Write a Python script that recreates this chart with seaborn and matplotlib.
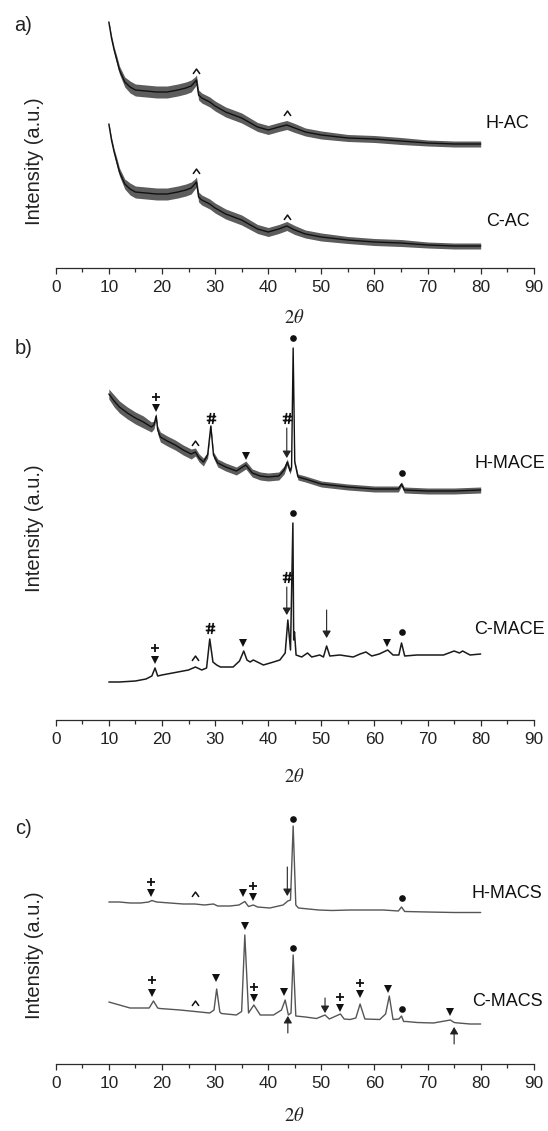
import numpy as np
import matplotlib
matplotlib.use("Agg")
import matplotlib.pyplot as plt
from matplotlib.path import Path
from matplotlib.ticker import MultipleLocator
import seaborn as sns

# ---------------- data: 2-theta (deg) and intensity (a.u., stacked) ----------------
# a) activated carbons
ac_2theta = [10, 10.5, 11, 11.5, 12, 13, 14, 15, 17, 19, 21, 23, 24.5, 25.5, 26.2, 26.5,
             26.9, 27.5, 29, 30, 32, 35, 38, 40, 42, 43.5, 45, 47, 50, 55, 60, 65, 70, 75, 80]
hac_int = [246, 230, 218, 208, 198, 186, 181, 178, 177, 176, 176, 178, 180, 182, 186, 188,
           173, 170, 166, 162, 156, 150, 141, 138, 141, 143, 140, 136, 133, 130, 129, 127, 125, 124, 124]
cac_int = [144, 128, 116, 106, 96, 84, 79, 76, 75, 74, 74, 76, 78, 80, 84, 86,
           71, 68, 64, 60, 54, 48, 39, 36, 39, 42, 38, 34, 31, 28, 26, 25, 23, 22, 22]
ac_noise = [2, 3, 3, 4, 4, 5, 6, 6, 6, 6, 6, 6, 6, 6, 5, 5,
            5, 5, 5, 5, 5, 5, 4.5, 4.5, 4.5, 4.5, 4.5, 4, 4, 3.5, 3.5, 3.5, 3, 3, 3]

# b) MACE samples
hmace_2theta = [10, 11, 12, 13.5, 15, 16.5, 18, 18.5, 18.9, 19.2, 19.7, 21, 22.5, 24, 25.5, 26.3,
                27, 27.8, 28.6, 29.2, 29.7, 30.5, 32, 34, 35.8, 37, 38.5, 40, 42, 43, 43.6, 44.1,
                44.4, 44.7, 45.0, 45.6, 47, 50, 55, 60, 64.5, 65.1, 65.6, 70, 75, 80]
hmace_int = [326, 319, 313, 307, 302, 298, 293, 295, 304, 290, 283, 279, 275, 270, 266, 268,
             262, 258, 265, 294, 265, 257, 253, 249, 255, 247, 244, 243, 244, 250, 258, 249,
             253, 372, 258, 243, 241, 236, 233, 231, 231, 236, 230, 229, 229, 230]
hmace_noise = [5, 6, 6, 6, 6, 6, 5, 4, 3, 4, 5, 5, 5, 5, 5, 4,
               4, 4, 3, 2, 3, 4, 4, 4, 4, 4, 4, 4, 4, 4, 3, 3,
               2, 0.5, 2, 3, 3, 3, 3, 3, 3, 2, 3, 3, 3, 3]
cmace_2theta = [10, 12, 15, 17, 18.1, 18.7, 19.2, 20, 22, 25, 26.3, 27.5, 28.4, 29.0, 29.6, 30.3,
                31, 33.4, 34.6, 35.4, 36.0, 36.6, 37.2, 39.1, 41, 42.2, 43.2, 43.7, 44.2, 44.65,
                44.8, 44.95, 45.25, 46.3, 47.4, 48.2, 49.7, 50.4, 51.0, 51.6, 53.5, 56, 57.3, 58.4,
                59.5, 60.9, 62.5, 63.5, 64.6, 65.1, 65.7, 68, 70, 73, 75, 76, 76.6, 78, 80]
cmace_int = [38, 38, 39, 41, 44, 52, 44, 45, 47, 50, 53, 50, 52, 81, 58, 55,
             53, 53, 59, 69, 60, 58, 60, 55, 58, 60, 67, 100, 70, 197,
             80, 88, 65, 63, 67, 63, 65, 63, 74, 64, 65, 63, 66, 68,
             64, 66, 70, 65, 65, 77, 64, 65, 65, 65, 69, 67, 69, 65, 66]

# c) MACS samples
hmacs_2theta = [10, 12, 14, 16, 17.5, 18.1, 19, 21.5, 24, 26.2, 28, 29.7, 30.5, 32.8, 34.5, 35.6,
                36.3, 37.2, 38, 40.3, 42.8, 43.7, 44.2, 44.7, 45.2, 45.7, 49.5, 52, 55.4, 61.7,
                64.5, 65.1, 65.7, 70, 75, 80]
hmacs_int = [162, 162, 161, 161, 162, 163.5, 162, 161, 160, 160, 159, 160, 158, 158, 159, 162.5,
             157.5, 159, 157, 156, 159, 163, 164, 238, 159, 156, 154, 153.5, 154, 154,
             153, 157, 152.5, 152, 151.5, 151.5]
cmacs_2theta = [10, 11, 12, 14, 16, 17.6, 18.4, 19.2, 19.6, 23.4, 26.2, 29, 29.8, 30.3, 30.9, 31.2,
                34, 35, 35.6, 36.3, 37.3, 38.5, 41, 42.5, 43.2, 43.8, 44.3, 44.7, 45.2, 47,
                49.1, 50.7, 51.5, 53.6, 54.3, 55.4, 56.5, 57.3, 58.2, 61, 62.1, 62.8, 63.5, 64.6,
                65.1, 65.5, 66, 68, 71.1, 74.3, 75, 75.8, 78, 80]
cmacs_int = [62, 60.5, 59, 56, 56, 56, 63, 56, 55.5, 54, 52.5, 51, 54, 75, 52, 50.5,
             49, 52.5, 129, 51, 59, 49, 49, 54, 64, 49, 51, 109, 48, 47,
             45.5, 49, 45, 50, 45, 44.5, 46, 60, 45, 44.5, 50, 68, 44.5, 45,
             48, 42.5, 42.5, 41.5, 41, 44, 41.5, 41, 40, 40]

# phase markers: (2theta, height) per symbol
a_caret_x = [26.5, 43.5, 26.5, 43.5]
a_caret_y = [197, 155, 97, 51]

b_plus_x = [18.9, 18.7]
b_plus_y = [323, 72]
b_tri_x = [18.9, 35.8, 18.7, 35.3, 62.4]
b_tri_y = [312, 264, 60, 77, 77]
b_caret_x = [26.3, 26.3]
b_caret_y = [277, 62]
b_hash_x = [29.2, 43.5, 29.0, 43.5]
b_hash_y = [302, 302, 92, 143]
b_dot_x = [44.7, 65.1, 44.65, 65.1]
b_dot_y = [382, 247, 207, 88]
b_arrow_x = [43.5, 43.5, 51.0]
b_arrow_tail = [292, 133, 110]
b_arrow_tip = [262, 105, 82]

c_plus_x = [18.0, 37.2, 18.2, 37.3, 53.5, 57.3]
c_plus_y = [182, 178, 84, 77, 67, 81]
c_tri_x = [18.0, 35.3, 37.2, 18.2, 30.2, 35.6, 37.3, 43.0, 53.5, 57.3, 62.5, 74.2]
c_tri_y = [171, 171, 167, 71, 86, 138, 66, 72, 56, 70, 75, 52]
c_caret_x = [26.2, 26.2]
c_caret_y = [170, 61]
c_dot_x = [44.7, 65.1, 44.7, 65.1]
c_dot_y = [245, 166, 116, 55]
c_arrow_x = [43.6, 43.7, 50.7, 75.0]
c_arrow_tail = [197, 31, 66, 20]
c_arrow_tip = [168, 48, 51, 37]

sample_labels = {
    "a": [("H-AC", 81.0, 145), ("C-AC", 81.0, 46)],
    "b": [("H-MACE", 78.8, 257), ("C-MACE", 78.8, 90)],
    "c": [("H-MACS", 78.3, 170), ("C-MACS", 78.3, 63)],
}
x_ticks = [0, 10, 20, 30, 40, 50, 60, 70, 80, 90]

# ---------------- style ----------------
sns.set_theme(style="white")
plt.rcParams.update({
    "font.family": ["Liberation Sans", "DejaVu Sans"],
    "mathtext.fontset": "stix",
    "axes.edgecolor": "#2b2b2b",
    "axes.linewidth": 0.9,
    "xtick.color": "#2b2b2b",
    "xtick.labelcolor": "#222222",
    "xtick.direction": "out",
    "xtick.major.size": 4.5,
    "xtick.minor.size": 2.6,
    "xtick.major.width": 0.9,
    "xtick.minor.width": 0.9,
    "xtick.major.pad": 4,
    "xtick.labelsize": 12.4,
})

caret_marker = Path([(-1, -0.7), (0, 0.7), (1, -0.7)], [Path.MOVETO, Path.LINETO, Path.LINETO])
hash_marker = Path(
    [(-0.45, -1), (-0.15, 1), (0.2, -1), (0.5, 1),
     (-0.85, 0.35), (0.85, 0.35), (-0.85, -0.35), (0.85, -0.35)],
    [Path.MOVETO, Path.LINETO, Path.MOVETO, Path.LINETO,
     Path.MOVETO, Path.LINETO, Path.MOVETO, Path.LINETO])

W, H = 548, 1131
fig = plt.figure(figsize=(W / 100, H / 100), dpi=100)


def make_axes(axis_px, top_px):
    ax = fig.add_axes([55.7 / W, (H - axis_px) / H, 478.1 / W, (axis_px - top_px) / H])
    ax.set_xlim(0, 90)
    ax.set_ylim(0, axis_px - top_px)
    return ax


ax_a = make_axes(268, 12)
ax_b = make_axes(720, 330)
ax_c = make_axes(1064, 800)


def trace(ax, x, y, color, lw, noise=None):
    x = np.asarray(x, float)
    y = np.asarray(y, float)
    if noise is not None:
        s = np.asarray(noise, float)
        ax.fill_between(x, y - s, y + s, color="#1e1e1e", alpha=0.72, lw=0)
    sns.lineplot(x=x, y=y, ax=ax, color=color, linewidth=lw, estimator=None, sort=False)


def symbols(ax, xs, ys, kind):
    if not xs:
        return
    if kind == "tri":
        ax.plot(xs, ys, ls="none", marker="v", ms=6, color="#111111", mew=0)
    elif kind == "dot":
        ax.plot(xs, ys, ls="none", marker="o", ms=4.8, color="#111111", mew=0)
    elif kind == "plus":
        ax.plot(xs, ys, ls="none", marker="+", ms=5.5, color="#111111", mew=1.3)
    elif kind == "caret":
        ax.plot(xs, ys, ls="none", marker=caret_marker, ms=5, mfc="none", mec="#111111", mew=1.1)
    elif kind == "hash":
        ax.plot(xs, ys, ls="none", marker=hash_marker, ms=8, mfc="none", mec="#111111", mew=1.2)


def arrows(ax, xs, tails, tips):
    for x, t0, t1 in zip(xs, tails, tips):
        ax.annotate("", xy=(x, t1), xytext=(x, t0),
                    arrowprops=dict(arrowstyle="-|>,head_length=0.42,head_width=0.25",
                                    color="#222222", lw=0.8, shrinkA=0, shrinkB=0,
                                    mutation_scale=10))


# a)
trace(ax_a, ac_2theta, hac_int, "#111111", 1.0, ac_noise)
trace(ax_a, ac_2theta, cac_int, "#111111", 1.0, ac_noise)
symbols(ax_a, a_caret_x, a_caret_y, "caret")

# b)
trace(ax_b, hmace_2theta, hmace_int, "#111111", 1.0, hmace_noise)
trace(ax_b, cmace_2theta, cmace_int, "#1a1a1a", 1.1)
symbols(ax_b, b_plus_x, b_plus_y, "plus")
symbols(ax_b, b_tri_x, b_tri_y, "tri")
symbols(ax_b, b_caret_x, b_caret_y, "caret")
symbols(ax_b, b_hash_x, b_hash_y, "hash")
symbols(ax_b, b_dot_x, b_dot_y, "dot")
arrows(ax_b, b_arrow_x, b_arrow_tail, b_arrow_tip)

# c)
trace(ax_c, hmacs_2theta, hmacs_int, "#555555", 1.0)
trace(ax_c, cmacs_2theta, cmacs_int, "#555555", 1.0)
symbols(ax_c, c_plus_x, c_plus_y, "plus")
symbols(ax_c, c_tri_x, c_tri_y, "tri")
symbols(ax_c, c_caret_x, c_caret_y, "caret")
symbols(ax_c, c_dot_x, c_dot_y, "dot")
arrows(ax_c, c_arrow_x, c_arrow_tail, c_arrow_tip)

# axes decoration
panel_geom = {"a": (ax_a, 268, 12, 161.5, 318, 25.5),
              "b": (ax_b, 720, 330, 528, 777, 348),
              "c": (ax_c, 1064, 800, 955, 1116, 828)}
for key, (ax, axis_px, top_px, ylab_px, xlab_px, letter_px) in panel_geom.items():
    span = axis_px - top_px
    sns.despine(ax=ax, left=True, top=True, right=True)
    ax.set_yticks([])
    ax.xaxis.set_major_locator(MultipleLocator(10))
    ax.xaxis.set_minor_locator(MultipleLocator(5))
    ax.set_xticks(x_ticks)
    ax.tick_params(axis="x", which="both", bottom=True, top=False)
    ax.set_xlabel(r"$2\theta$", fontsize=13.5, color="#222222")
    ax.xaxis.set_label_coords(0.5, (axis_px - xlab_px) / span)
    ax.xaxis.label.set_va("center")
    ax.set_ylabel("Intensity (a.u.)", fontsize=14.5, color="#222222")
    ax.yaxis.set_label_coords((34.5 - 55.7) / 478.1, (axis_px - ylab_px) / span)
    ax.yaxis.label.set_va("center")
    for text, x, y in sample_labels[key]:
        ax.text(x, y, text, fontsize=13, color="#111111", ha="left", va="center", clip_on=False)
    fig.text(23.5 / W, 1 - letter_px / H, f"{key})", fontsize=14.5, color="#222222",
             ha="center", va="center")

fig.savefig("out.png", dpi=100, facecolor="white")
